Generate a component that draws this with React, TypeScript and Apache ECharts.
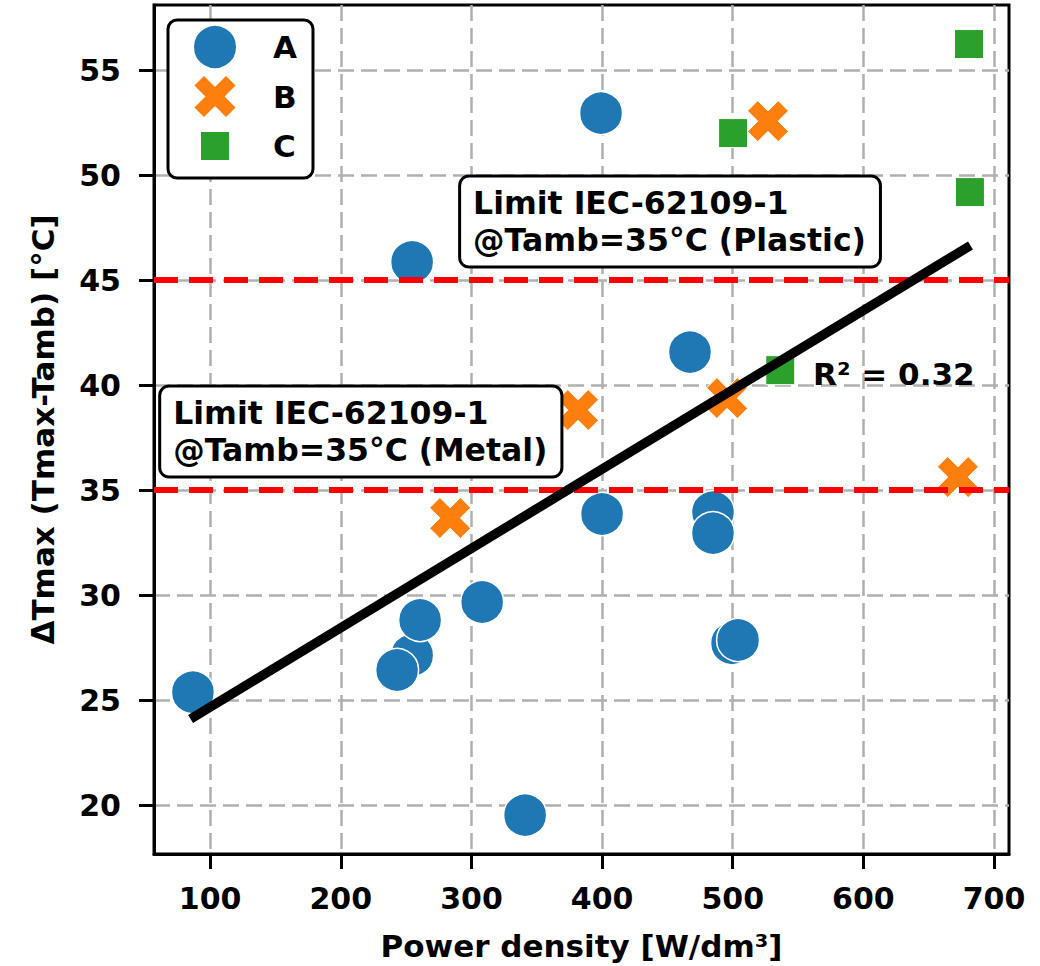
import React, { useEffect, useRef } from "react";
import * as echarts from "echarts";

// ---- data ----
const seriesNames = ["A", "B", "C"];
const aX = [86.8, 399.2, 254.6, 467.3, 400.0, 484.9, 484.9, 308.2, 254.6, 260.7, 243.1, 499.5, 504.1, 341.1];
const aY = [25.37, 52.95, 45.86, 41.57, 33.86, 33.95, 32.95, 29.67, 27.14, 28.81, 26.43, 27.71, 27.86, 19.52];
const bX = [527.0, 381.6, 495.7, 283.7, 672.4];
const bY = [52.57, 38.81, 39.38, 33.67, 35.62];
const cX = [680.9, 500.3, 681.6, 536.4];
const cY = [56.24, 52.0, 49.19, 40.71];

const xTicks = [100, 200, 300, 400, 500, 600, 700];
const yTicks = [20, 25, 30, 35, 40, 45, 50, 55];
const xRange = [57, 711.5];
const yRange = [17.67, 58.1];

const limitLines = [45, 35];
const fitX = [85, 682];
const fitY = [24.1, 46.65];

const plasticLabel = "Limit IEC-62109-1\n@Tamb=35°C (Plastic)";
const metalLabel = "Limit IEC-62109-1\n@Tamb=35°C (Metal)";
const r2Label = "R² = 0.32";
// left edge / vertical centre of each annotation, in data units
const plasticAt = [292.1, 47.79];
const metalAt = [62.5, 37.79];
const r2At = [561.5, 40.55];

const xName = "Power density [W/dm³]";
const yName = "ΔTmax (Tmax-Tamb) [°C]";

// ---- styling ----
const FONT = "DejaVu Sans";
const COLORS = ["#1f77b4", "#ff7f0e", "#2ca02c"];
const X_PATH = "path://M1,4L0,3L1,2L0,1L1,0L2,1L3,0L4,1L3,2L4,3L3,4L2,3Z";
const SQUARE_LEGEND = "path://M0,0M44,44M7,7L37,7L37,37L7,37Z";

const zip = (xs: number[], ys: number[]) => xs.map((x, i) => [x, ys[i]]);

export default function App() {
  const ref = useRef<HTMLDivElement>(null);

  useEffect(() => {
    if (!ref.current) return;
    const chart = echarts.init(ref.current, null, { renderer: "svg" });

    const labelStyle = {
      color: "#000",
      fontSize: 30,
      fontWeight: "bold" as const,
      fontFamily: FONT,
    };

    chart.setOption({
      animation: false,
      grid: {
        left: 154,
        right: 31,
        top: 5,
        bottom: 112,
        show: true,
        borderColor: "#000",
        borderWidth: 3,
        backgroundColor: "#fff",
        containLabel: false,
        outerBoundsMode: "none",
      },
      legend: {
        data: [
          { name: seriesNames[0], icon: "circle" },
          { name: seriesNames[1], icon: X_PATH },
          { name: seriesNames[2], icon: SQUARE_LEGEND },
        ],
        orient: "vertical",
        left: 168,
        top: 20,
        itemWidth: 44,
        itemHeight: 44,
        itemGap: 3.5,
        padding: [4, 16, 9, 24],
        backgroundColor: "#fff",
        borderColor: "#000",
        borderWidth: 3,
        borderRadius: 9,
        selectedMode: false,
        textStyle: { ...labelStyle, fontSize: 31, padding: [0, 0, 0, 31] },
      },
      xAxis: {
        type: "value",
        min: xRange[0],
        max: xRange[1],
        name: xName,
        nameLocation: "middle",
        nameGap: 76,
        nameTextStyle: { ...labelStyle, fontSize: 31 },
        axisLine: { show: true, lineStyle: { color: "#000", width: 3 } },
        axisTick: { show: true, length: 15, lineStyle: { color: "#000", width: 3 }, customValues: xTicks },
        axisLabel: { ...labelStyle, margin: 29, customValues: xTicks },
        splitLine: { show: true, lineStyle: { color: "#b0b0b0", width: 2.5, type: [16, 7] } },
      },
      yAxis: {
        type: "value",
        min: yRange[0],
        max: yRange[1],
        name: yName,
        nameLocation: "middle",
        nameRotate: 90,
        nameGap: 96,
        nameTextStyle: { ...labelStyle, fontSize: 31 },
        axisLine: { show: true, lineStyle: { color: "#000", width: 3 } },
        axisTick: { show: true, length: 15, lineStyle: { color: "#000", width: 3 }, customValues: yTicks },
        axisLabel: { ...labelStyle, margin: 33, customValues: yTicks },
        splitLine: { show: true, lineStyle: { color: "#b0b0b0", width: 2.5, type: [16, 7] } },
      },
      series: [
        {
          name: seriesNames[0],
          type: "scatter",
          symbol: "circle",
          symbolSize: 43,
          itemStyle: { color: COLORS[0], borderColor: "#fff", borderWidth: 1.5, opacity: 1 },
          data: zip(aX, aY),
          z: 2,
        },
        {
          name: seriesNames[1],
          type: "scatter",
          symbol: X_PATH,
          symbolKeepAspect: true,
          symbolSize: 41,
          itemStyle: { color: COLORS[1], borderColor: "#fff", borderWidth: 1, opacity: 1 },
          data: zip(bX, bY),
          z: 2,
        },
        {
          name: seriesNames[2],
          type: "scatter",
          symbol: "rect",
          symbolSize: 29,
          itemStyle: { color: COLORS[2], borderColor: "#fff", borderWidth: 1, opacity: 1 },
          data: zip(cX, cY),
          z: 2,
        },
        {
          name: "limits",
          type: "line",
          data: [],
          z: 3,
          markLine: {
            silent: true,
            symbol: ["none", "none"],
            label: { show: false },
            lineStyle: { color: "#ff0000", width: 6, type: [24, 11], opacity: 1 },
            data: limitLines.map((v) => ({ yAxis: v })),
          },
        },
        {
          name: "fit",
          type: "line",
          symbol: "none",
          z: 5,
          lineStyle: { color: "#000", width: 9.5, cap: "butt" },
          data: zip(fitX, fitY),
        },
      ],
    });

    const px = (p: number[]) => chart.convertToPixel({ xAxisIndex: 0, yAxisIndex: 0 }, p) as number[];
    const boxStyle = {
      font: `bold 31.5px "${FONT}"`,
      fill: "#000",
      align: "left",
      verticalAlign: "middle",
      lineHeight: 37,
      backgroundColor: "#fff",
      borderColor: "#000",
      borderWidth: 3,
      borderRadius: 8,
      padding: [7, 13, 7, 12],
    };
    const pP = px(plasticAt);
    const pM = px(metalAt);
    const pR = px(r2At);
    chart.setOption({
      graphic: [
        { type: "text", x: pP[0], y: pP[1], z: 10, style: { ...boxStyle, text: plasticLabel } },
        { type: "text", x: pM[0], y: pM[1], z: 10, style: { ...boxStyle, text: metalLabel } },
        {
          type: "text",
          x: pR[0],
          y: pR[1],
          z: 10,
          style: { text: r2Label, font: `bold 31px "${FONT}"`, fill: "#000", align: "left", verticalAlign: "middle" },
        },
      ],
    });

    return () => chart.dispose();
  }, []);

  return (
    <div
      ref={ref}
      style={{ position: "fixed", left: 0, top: 0, width: 1040, height: 966, background: "#fff" }}
    />
  );
}
